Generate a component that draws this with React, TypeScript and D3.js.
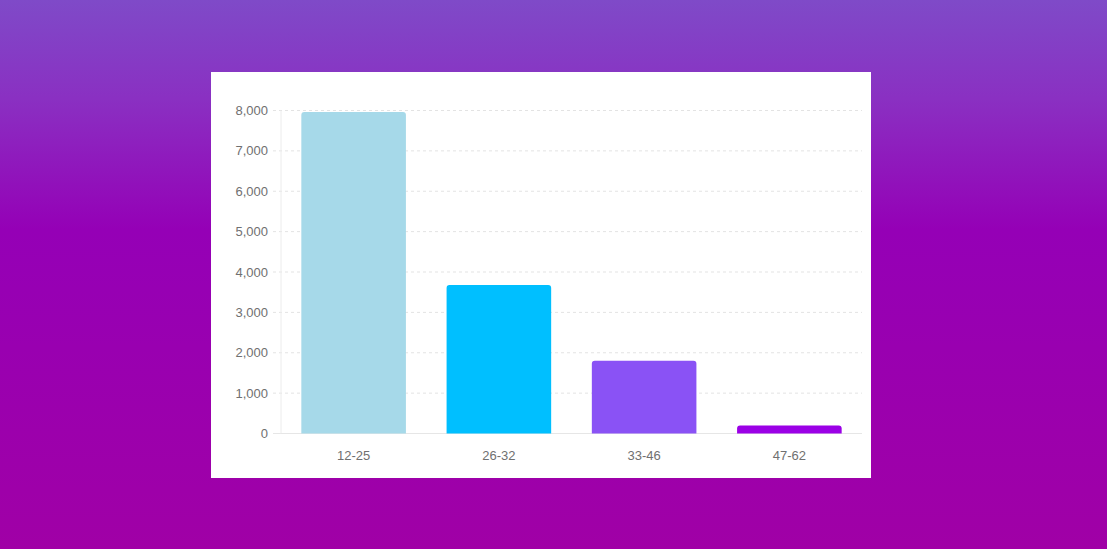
import React, { useEffect, useRef } from 'react';
import * as d3 from 'd3';

const ageGroups = ['12-25', '26-32', '33-46', '47-62'];
const counts = [7960, 3680, 1800, 200];
const barColors = ['#a6d9e9', '#00bfff', '#8a52f5', '#9b00e6'];
const yTicks = [0, 1000, 2000, 3000, 4000, 5000, 6000, 7000, 8000];

const W = 1107;
const H = 549;

const App: React.FC = () => {
  const svgRef = useRef<SVGSVGElement>(null);

  useEffect(() => {
    if (!svgRef.current) return;
    document.body.style.margin = '0';

    const svg = d3.select(svgRef.current);
    svg.selectAll('*').remove();

    // background gradient
    const defs = svg.append('defs');
    const grad = defs.append('linearGradient')
      .attr('id', 'bg')
      .attr('x1', 0).attr('y1', 0).attr('x2', 0).attr('y2', 1);
    grad.append('stop').attr('offset', '0%').attr('stop-color', '#7f4ac8');
    grad.append('stop').attr('offset', '18%').attr('stop-color', '#8a30c2');
    grad.append('stop').attr('offset', '42%').attr('stop-color', '#9500b6');
    grad.append('stop').attr('offset', '100%').attr('stop-color', '#a000a6');

    svg.append('rect')
      .attr('width', W).attr('height', H)
      .attr('fill', 'url(#bg)');

    // white card
    const card = { x: 211, y: 72, w: 660, h: 406 };
    svg.append('rect')
      .attr('x', card.x).attr('y', card.y)
      .attr('width', card.w).attr('height', card.h)
      .attr('fill', '#fff');

    const left = 281;
    const right = 862;
    const top = 110.5;
    const bottom = 433.5;

    const x = d3.scaleBand()
      .domain(ageGroups)
      .range([left, right])
      .paddingInner(0.28)
      .paddingOuter(0.14);

    const y = d3.scaleLinear()
      .domain([0, 8000])
      .range([bottom, top]);

    const fmt = d3.format(',');
    const font = 'Helvetica, Arial, "Liberation Sans", sans-serif';

    // grid lines
    svg.append('g')
      .selectAll('line')
      .data(yTicks.filter(d => d > 0))
      .enter()
      .append('line')
      .attr('x1', left - 8)
      .attr('x2', right)
      .attr('y1', d => y(d))
      .attr('y2', d => y(d))
      .attr('stroke', '#e3e3e3')
      .attr('stroke-width', 1)
      .attr('stroke-dasharray', '3,3');

    // small tick at 0
    svg.append('line')
      .attr('x1', left - 8).attr('x2', left)
      .attr('y1', y(0)).attr('y2', y(0))
      .attr('stroke', '#e6e6e6');

    // axis lines
    svg.append('line')
      .attr('x1', left).attr('x2', left)
      .attr('y1', top).attr('y2', bottom)
      .attr('stroke', '#ececec');
    svg.append('line')
      .attr('x1', left).attr('x2', right)
      .attr('y1', bottom).attr('y2', bottom)
      .attr('stroke', '#e6e6e6');

    // bars with rounded top corners
    const r = 3;
    svg.append('g')
      .selectAll('path')
      .data(ageGroups)
      .enter()
      .append('path')
      .attr('d', (d, i) => {
        const x0 = x(d) || 0;
        const x1 = x0 + x.bandwidth();
        const y0 = y(counts[i]);
        const y1 = y(0);
        return `M${x0},${y1}V${y0 + r}Q${x0},${y0} ${x0 + r},${y0}H${x1 - r}Q${x1},${y0} ${x1},${y0 + r}V${y1}Z`;
      })
      .attr('fill', (_, i) => barColors[i]);

    // y labels
    svg.append('g')
      .selectAll('text')
      .data(yTicks)
      .enter()
      .append('text')
      .attr('x', left - 13)
      .attr('y', d => y(d))
      .attr('dy', '0.35em')
      .attr('text-anchor', 'end')
      .attr('font-family', font)
      .attr('font-size', 13)
      .attr('fill', '#707070')
      .text(d => fmt(d));

    // x labels
    svg.append('g')
      .selectAll('text')
      .data(ageGroups)
      .enter()
      .append('text')
      .attr('x', d => (x(d) || 0) + x.bandwidth() / 2)
      .attr('y', 455)
      .attr('dy', '0.35em')
      .attr('text-anchor', 'middle')
      .attr('font-family', font)
      .attr('font-size', 13)
      .attr('fill', '#707070')
      .text(d => d);
  }, []);

  return (
    <div style={{ position: 'absolute', left: 0, top: 0 }}>
      <svg ref={svgRef} width={W} height={H} style={{ display: 'block' }}></svg>
    </div>
  );
};

export default App;
